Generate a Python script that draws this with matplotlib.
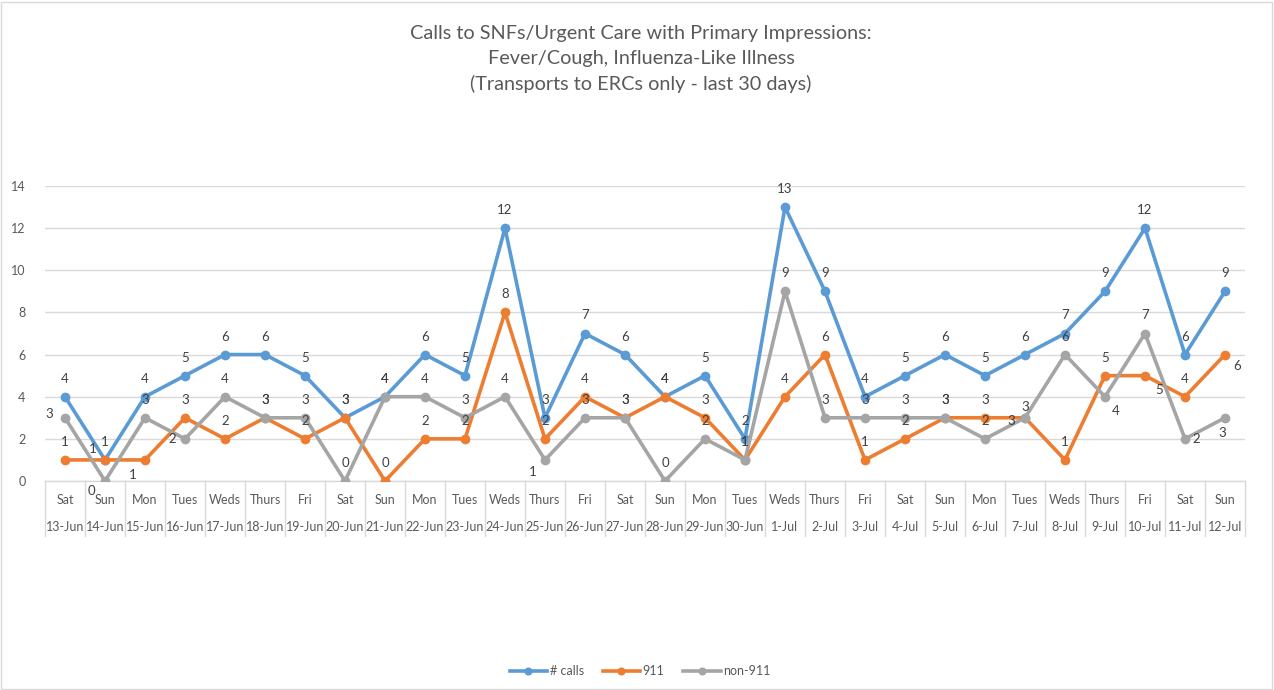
import matplotlib
matplotlib.use("Agg")
import matplotlib.pyplot as plt
from matplotlib.transforms import blended_transform_factory
from matplotlib.patches import Rectangle
from matplotlib.lines import Line2D

plt.rcParams['font.family'] = ['Lato', 'DejaVu Sans']

days = ["Sat", "Sun", "Mon", "Tues", "Weds", "Thurs", "Fri", "Sat", "Sun", "Mon",
        "Tues", "Weds", "Thurs", "Fri", "Sat", "Sun", "Mon", "Tues", "Weds", "Thurs",
        "Fri", "Sat", "Sun", "Mon", "Tues", "Weds", "Thurs", "Fri", "Sat", "Sun"]
dates = ["13-Jun", "14-Jun", "15-Jun", "16-Jun", "17-Jun", "18-Jun", "19-Jun", "20-Jun",
         "21-Jun", "22-Jun", "23-Jun", "24-Jun", "25-Jun", "26-Jun", "27-Jun", "28-Jun",
         "29-Jun", "30-Jun", "1-Jul", "2-Jul", "3-Jul", "4-Jul", "5-Jul", "6-Jul",
         "7-Jul", "8-Jul", "9-Jul", "10-Jul", "11-Jul", "12-Jul"]
calls = [4, 1, 4, 5, 6, 6, 5, 3, 4, 6, 5, 12, 3, 7, 6, 4, 5, 2, 13, 9, 4, 5, 6, 5, 6, 7, 9, 12, 6, 9]
n911 = [1, 1, 1, 3, 2, 3, 2, 3, 0, 2, 2, 8, 2, 4, 3, 4, 3, 1, 4, 6, 1, 2, 3, 3, 3, 1, 5, 5, 4, 6]
non911 = [3, 0, 3, 2, 4, 3, 3, 0, 4, 4, 3, 4, 1, 3, 3, 0, 2, 1, 9, 3, 3, 3, 3, 2, 3, 6, 4, 7, 2, 3]

title = ("Calls to SNFs/Urgent Care with Primary Impressions:\n"
         "Fever/Cough, Influenza-Like Illness\n"
         "(Transports to ERCs only - last 30 days)")

W, H = 1274, 690
fig = plt.figure(figsize=(W / 100, H / 100), dpi=100)
fig.patches.append(Rectangle((1 / W, 1 / H), 1 - 3 / W, 1 - 3 / H, transform=fig.transFigure,
                             fill=False, edgecolor="#D9D9D9", linewidth=1))

L, R, T, B = 45, 1245, 186, 481
ax = fig.add_axes([L / W, 1 - B / H, (R - L) / W, (B - T) / H])

x = list(range(len(days)))
series = [("# calls", calls, "#5B9BD5"), ("911", n911, "#ED7D31"), ("non-911", non911, "#A5A5A5")]
for name, vals, col in series:
    ax.plot(x, vals, color=col, lw=2.6, marker="o", ms=6, label=name, zorder=3,
            solid_joinstyle="round")

# label offsets (points) where the default "above" would collide
special = {
    ("non-911", 0): (-11, 3), ("non-911", 1): (-10, -7), ("non-911", 12): (-9, -9),
    ("non-911", 3): (-9, 0), ("911", 1): (-9, 8), ("911", 2): (-9, -11),
    ("non-911", 28): (8, 0), ("non-911", 29): (-2, -11), ("911", 29): (9, -8),
    ("non-911", 26): (8, -10), ("911", 27): (10, -10), ("non-911", 24): (-10, -2),
    ("911", 24): (0, 8),
}
for name, vals, col in reversed(series):
    for xi, v in zip(x, vals):
        off = special.get((name, xi), (0, 13))
        ax.annotate(str(v), (xi, v), xytext=off, textcoords="offset points",
                    ha="center", va="center", fontsize=9.5, color="#404040", zorder=5)

ax.set_xlim(-0.5, len(days) - 0.5)
ax.set_ylim(0, 14)
ax.set_yticks(range(0, 15, 2))
ax.tick_params(axis="y", length=0, labelsize=9, labelcolor="#595959", pad=14)
ax.tick_params(axis="x", length=0, labelbottom=False)
ax.grid(axis="y", color="#D9D9D9", lw=1)
ax.set_axisbelow(True)
for s in ["top", "right", "left"]:
    ax.spines[s].set_visible(False)
ax.spines["bottom"].set_color("#D9D9D9")
ax.spines["bottom"].set_linewidth(1)

trans = blended_transform_factory(ax.transData, ax.transAxes)
ah = B - T
for i in range(len(days) + 1):
    ax.add_line(Line2D([i - 0.5, i - 0.5], [0, -55 / ah], transform=trans, color="#D9D9D9",
                       lw=1, clip_on=False))
for xi, d, dt in zip(x, days, dates):
    ax.text(xi, -19 / ah, d, transform=trans, ha="center", va="center", fontsize=9,
            color="#595959")
    ax.text(xi, -46 / ah, dt, transform=trans, ha="center", va="center", fontsize=9,
            color="#595959")

fig.text(641 / W, 1 - 59 / H, title, ha="center", va="center", fontsize=14.3,
         color="#595959", linespacing=1.55)

fig.legend(loc="center", bbox_to_anchor=(640 / W, 1 - 671 / H), ncol=3, frameon=False,
           fontsize=9, labelcolor="#595959", handlelength=3, handletextpad=0.2,
           columnspacing=1.5, markerscale=0.8)

fig.savefig("out.png", dpi=100)
